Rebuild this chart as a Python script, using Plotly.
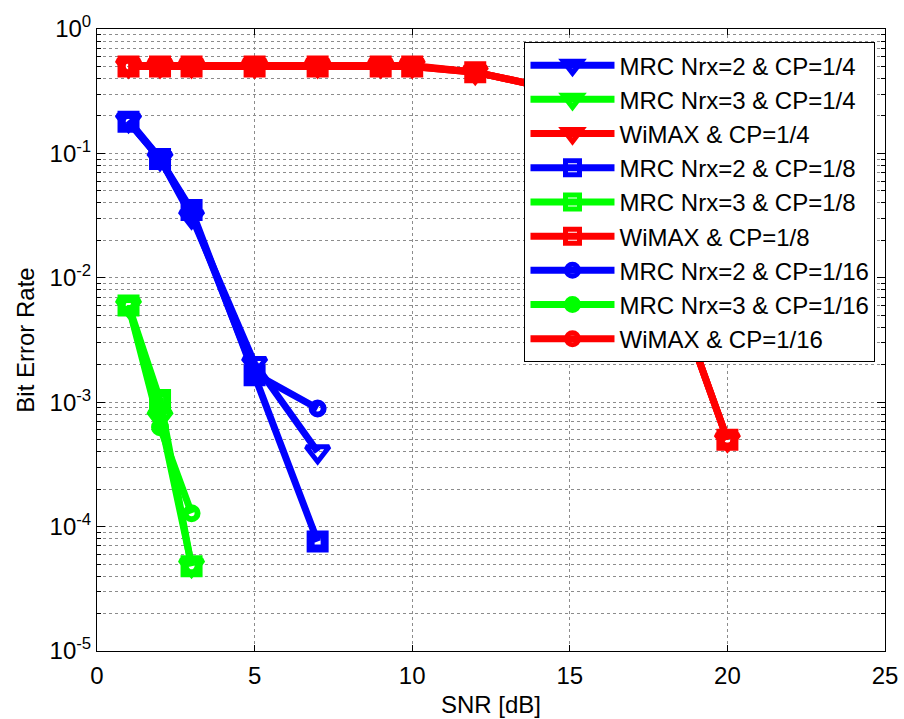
import plotly.graph_objects as go

# ---------------- data ----------------
snr_mrc = [1, 2, 3, 5, 7]
snr_mrc3 = [1, 2, 3]
snr_wimax = [1, 2, 3, 5, 7, 9, 10, 12, 14, 16, 18, 20]

ber_mrc2_cp4 = [0.185, 0.091, 0.031, 2.05e-3, 4.0e-4]
ber_mrc3_cp4 = [6.0e-3, 7.6e-4, 4.9e-5]
ber_wimax_cp4 = [0.51, 0.51, 0.51, 0.51, 0.51, 0.51, 0.51, 0.45, 0.35, 0.12, 0.013, 5.0e-4]

ber_mrc2_cp8 = [0.18, 0.09, 0.035, 1.65e-3, 7.6e-5]
ber_mrc3_cp8 = [6.0e-3, 1.04e-3, 4.8e-5]
ber_wimax_cp8 = [0.5, 0.5, 0.5, 0.5, 0.5, 0.5, 0.5, 0.45, 0.35, 0.12, 0.013, 5.0e-4]

ber_mrc2_cp16 = [0.18, 0.09, 0.033, 1.7e-3, 8.9e-4]
ber_mrc3_cp16 = [6.0e-3, 6.3e-4, 1.28e-4]
ber_wimax_cp16 = [0.5, 0.5, 0.5, 0.5, 0.5, 0.5, 0.5, 0.45, 0.35, 0.12, 0.013, 5.0e-4]

names = [
    "MRC Nrx=2 & CP=1/4", "MRC Nrx=3 & CP=1/4", "WiMAX & CP=1/4",
    "MRC Nrx=2 & CP=1/8", "MRC Nrx=3 & CP=1/8", "WiMAX & CP=1/8",
    "MRC Nrx=2 & CP=1/16", "MRC Nrx=3 & CP=1/16", "WiMAX & CP=1/16",
]

y_tickvals = [1e-5, 1e-4, 1e-3, 1e-2, 1e-1, 1]
y_ticktext = ["10<sup>-5</sup>", "10<sup>-4</sup>", "10<sup>-3</sup>",
              "10<sup>-2</sup>", "10<sup>-1</sup>", "10<sup>0</sup>"]
y_minor = [k * 10.0 ** e for e in range(-5, 0) for k in range(2, 10)]
x_tickvals = [0, 5, 10, 15, 20, 25]

# ---------------- styles ----------------
BLUE, GREEN, RED = "#0000ff", "#00ff00", "#ff0000"
marker_style = {
    "triangle-down": dict(size=20, line_width=5),
    "square": dict(size=14, line_width=8),
    "circle": dict(size=12, line_width=6),
}

series = [
    (snr_mrc, ber_mrc2_cp4, BLUE, "triangle-down"),
    (snr_mrc3, ber_mrc3_cp4, GREEN, "triangle-down"),
    (snr_wimax, ber_wimax_cp4, RED, "triangle-down"),
    (snr_mrc, ber_mrc2_cp8, BLUE, "square"),
    (snr_mrc3, ber_mrc3_cp8, GREEN, "square"),
    (snr_wimax, ber_wimax_cp8, RED, "square"),
    (snr_mrc, ber_mrc2_cp16, BLUE, "circle"),
    (snr_mrc3, ber_mrc3_cp16, GREEN, "circle"),
    (snr_wimax, ber_wimax_cp16, RED, "circle"),
]

fig = go.Figure()
for i, ((xs, ys, col, sym), nm) in enumerate(zip(series, names)):
    ms = marker_style[sym]
    fig.add_trace(go.Scatter(
        x=xs, y=ys, name=nm, mode="lines+markers",
        legendgroup=f"g{i}",
        line=dict(color=col, width=7),
        marker=dict(symbol=sym, size=ms["size"], color="rgba(0,0,0,0)",
                    line=dict(color=col, width=ms["line_width"])),
    ))

FONT = "Arial, Liberation Sans, sans-serif"
GRID = "#8c8c8c"

fig.update_layout(
    width=904, height=719,
    margin=dict(l=97, r=19, t=29, b=68, autoexpand=False),
    paper_bgcolor="white", plot_bgcolor="white",
    font=dict(family=FONT, size=24, color="black"),
    showlegend=True,
    legend=dict(
        x=0.5425, y=0.979, xanchor="left", yanchor="top",
        bgcolor="white", bordercolor="black", borderwidth=1,
        font=dict(family=FONT, size=24, color="black"),
        itemwidth=84, tracegroupgap=0,
    ),
    xaxis=dict(
        range=[0, 25], tickmode="array", tickvals=x_tickvals,
        ticks="inside", ticklen=6, tickcolor="black",
        showline=True, linecolor="black", linewidth=1, mirror="ticks",
        showgrid=True, gridcolor=GRID, griddash="dot", gridwidth=1,
        zeroline=False, automargin=False, ticklabelstandoff=3,
        title=dict(text="SNR [dB]", font=dict(size=24), standoff=8),
        tickfont=dict(size=24),
    ),
    yaxis=dict(
        type="log", range=[-5, 0], tickmode="array",
        tickvals=y_tickvals, ticktext=y_ticktext,
        ticks="inside", ticklen=8, tickcolor="black",
        showline=True, linecolor="black", linewidth=1, mirror="ticks",
        showgrid=True, gridcolor=GRID, griddash="dot", gridwidth=1,
        zeroline=False, automargin=False,
        minor=dict(tickmode="array", tickvals=y_minor, ticks="inside",
                   ticklen=4, tickcolor="black", showgrid=True,
                   gridcolor=GRID, griddash="dot", gridwidth=1),
        title=dict(text="Bit Error Rate", font=dict(size=24), standoff=8),
        tickfont=dict(size=24),
    ),
)

fig.write_html("out.html")
